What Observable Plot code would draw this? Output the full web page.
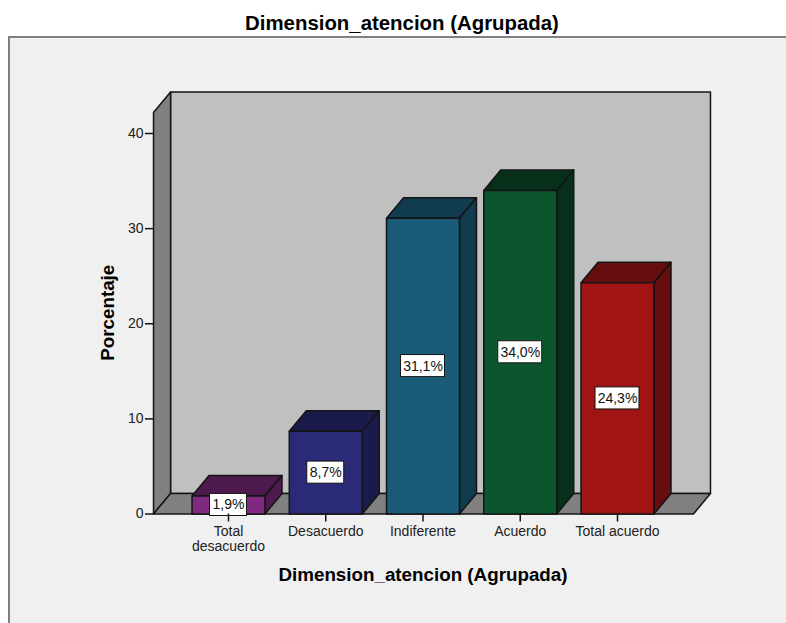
<!DOCTYPE html>
<html>
<head>
<meta charset="utf-8">
<script src="https://cdn.jsdelivr.net/npm/d3@7"></script>
<script src="https://cdn.jsdelivr.net/npm/@observablehq/plot@0.6"></script>
<style>
  html, body { margin: 0; padding: 0; background: #fff; overflow: hidden; }
  #title { height: 36px; width: 786px; margin-left: 9px; text-align: center;
           font: bold 20.4px "Liberation Sans", sans-serif; line-height: 46px; color: #000; }
  #panel { margin-left: 8px; width: 778px; height: 587px; box-sizing: border-box; background: #f0f0f0;
           border-top: 2px solid #808080; border-left: 2px solid #808080; }
  #panel svg { display: block; background: transparent; overflow: visible; }
</style>
</head>
<body>
<div id="title">Dimension_atencion (Agrupada)</div>
<div id="panel"></div>
<script>
// Agreement levels and their share of responses, in percent
const categories = ["Total desacuerdo", "Desacuerdo", "Indiferente", "Acuerdo", "Total acuerdo"];
const tickLabels = ["Total\ndesacuerdo", "Desacuerdo", "Indiferente", "Acuerdo", "Total acuerdo"];
const percentages = [1.9, 8.7, 31.1, 34.0, 24.3];
const percentLabels = ["1,9%", "8,7%", "31,1%", "34,0%", "24,3%"];
const frontColors = ["#7f2a80", "#2a2a78", "#1a5c78", "#0b562c", "#a01414"];
const shadeColors = ["#4e1a4e", "#1b1b4b", "#113b4f", "#072f1a", "#650d0f"];
const yTicks = [0, 10, 20, 30, 40];

// Oblique projection, in scale units: each face recedes by depthX, depthY
const depthX = 0.175, depthY = 2.155;
const halfBar = 0.375;
const wallLeft = -0.771, wallRight = 4.781, wallTop = 42.2;
const boxHalfH = 1.16;
const boxHalfW = text => text.length > 4 ? 0.226 : 0.19;

const ink = "#141414";
const edge = {stroke: ink, strokeWidth: 1.5, curve: "linear-closed", strokeLinejoin: "round"};

// Turns a list of [x, y] corners into rows for one closed polygon
const face = (id, fill, corners) => corners.map(([x, y]) => ({id, fill, x, y}));

const room = [
  ...face("back", "#c0c0c0", [[wallLeft + depthX, depthY], [wallRight + depthX, depthY], [wallRight + depthX, wallTop + depthY], [wallLeft + depthX, wallTop + depthY]]),
  ...face("side", "#808080", [[wallLeft, 0], [wallLeft + depthX, depthY], [wallLeft + depthX, wallTop + depthY], [wallLeft, wallTop]]),
  ...face("floor", "#808080", [[wallLeft, 0], [wallRight, 0], [wallRight + depthX, depthY], [wallLeft + depthX, depthY]])
];

const bars = categories.flatMap((name, i) => {
  const v = percentages[i], l = i - halfBar, r = i + halfBar;
  return [
    ...face(name + " top", shadeColors[i], [[l, v], [r, v], [r + depthX, v + depthY], [l + depthX, v + depthY]]),
    ...face(name + " side", shadeColors[i], [[r, 0], [r + depthX, depthY], [r + depthX, v + depthY], [r, v]]),
    ...face(name + " front", frontColors[i], [[l, 0], [r, 0], [r, v], [l, v]])
  ];
});

const labels = categories.map((name, i) => ({i, mid: percentages[i] / 2, text: percentLabels[i]}));

const chart = Plot.plot({
  width: 776,
  height: 585,
  marginLeft: 143,
  marginRight: 0,
  marginTop: 0,
  marginBottom: 109.5,
  style: {background: "transparent", fontFamily: "Liberation Sans, sans-serif", color: "#222"},
  x: {type: "linear", domain: [0, 4], range: [218, 607]},
  y: {type: "linear", domain: [0, 40], range: [475.5, 95]},
  marks: [
    Plot.line(room, {x: "x", y: "y", z: "id", fill: "fill", ...edge}),
    Plot.line(bars, {x: "x", y: "y", z: "id", fill: "fill", ...edge}),
    Plot.rect(labels, {
      x1: d => d.i - boxHalfW(d.text), x2: d => d.i + boxHalfW(d.text),
      y1: d => d.mid - boxHalfH, y2: d => d.mid + boxHalfH,
      fill: "#fff", stroke: ink, strokeWidth: 1
    }),
    Plot.text(labels, {x: "i", y: "mid", text: "text", fontSize: 14, fill: "#111"}),
    Plot.axisY({
      ticks: yTicks, tickSize: 8, tickPadding: 2, label: null, fontSize: 14,
      stroke: ink, strokeWidth: 1.5, strokeOpacity: 1
    }),
    Plot.axisX({
      ticks: [0, 1, 2, 3, 4], tickSize: 8, tickPadding: 3, label: null, fontSize: 14,
      tickFormat: i => tickLabels[i], stroke: ink, strokeWidth: 1.5, strokeOpacity: 1, lineHeight: 1.1
    }),
    Plot.text(["Dimension_atencion (Agrupada)"], {
      x: 2, frameAnchor: "bottom", dy: 67, fontSize: 18.8, fontWeight: "bold", fill: "#000"
    }),
    Plot.text(["Porcentaje"], {
      frameAnchor: "left", textAnchor: "middle", dx: -46, dy: 36.5, rotate: -90,
      fontSize: 18.8, fontWeight: "bold", fill: "#000"
    })
  ]
});
document.getElementById("panel").append(chart);
</script>
</body>
</html>
